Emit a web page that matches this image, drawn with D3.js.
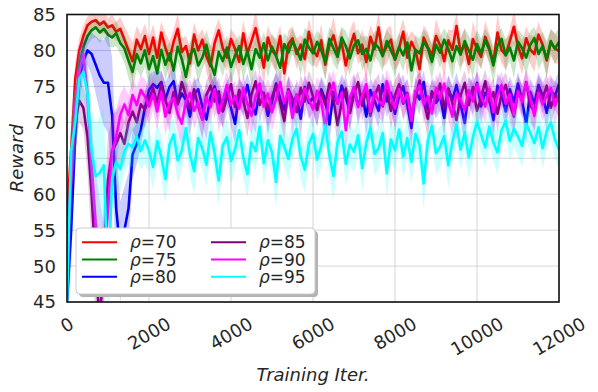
<!DOCTYPE html>
<html>
<head>
<meta charset="utf-8">
<script src="https://cdn.jsdelivr.net/npm/d3@7"></script>
<style>
    body { margin: 0; background: #fff; }
    text { font-family: "DejaVu Sans", sans-serif; fill: #262626; }
</style>
</head>
<body>
<div class="chart"></div>
<script>

// Reward curves, one value every 100 training iterations (0 .. 12000)
var stepIter = 100;

var rho70 = [57, 66, 76, 80, 82, 83.5, 84, 84.2, 83.6, 84, 83.2, 83.5, 82.6, 83, 81.5, 80, 78.5, 81.5, 80.2, 82, 79.5,
    81.8, 79, 82.5, 80.4, 78.6, 81.2, 83, 79.8, 80.6, 78.2, 82.2, 80, 81.5, 79.2, 77.8, 81, 82.8, 80.3, 79, 81.6,
    80.2, 78.4, 82.4, 79.6, 81.3, 83.1, 80.5, 77.6, 81.8, 80, 79.3, 82, 76.8, 80.9, 81.7, 79.5, 80.8, 78.8, 82.6, 80.1,
    79.2, 81.4, 78, 80.7, 82.1, 79.8, 81, 77.9, 80.4, 82.3, 79.6, 80.8, 78.4, 81.9, 80.2, 83.2, 79.4, 80.6, 81.5, 78.7,
    80.3, 82.6, 79, 81.2, 80, 77.4, 81.8, 80.5, 79.3, 82, 80.7, 78.5, 81.4, 80.1, 83.4, 79.7, 80.9, 78.1, 81.6, 80.2,
    79.1, 81.9, 80.4, 78.3, 82.5, 80, 79.4, 81.3, 83.3, 80.6, 78.9, 81.7, 80.1, 79.5, 82.2, 80.8, 78.6, 81.1, 80.3, 79.9];

var rho75 = [46, 58, 70, 78, 80.5, 82, 82.8, 83.2, 82.5, 83, 82.2, 81.8, 82.4, 81, 80.3, 78.6, 77, 79.5, 78.2, 80, 77.4,
    79.2, 76.8, 80.1, 78, 79.6, 77.2, 80.5, 78.8, 76.3, 79.4, 80.2, 77.9, 79, 80.8, 78.3, 76.6, 79.8, 78.5, 80.4, 77.7,
    79.3, 80.6, 78.1, 79.9, 77.4, 80.2, 79, 81, 78.6, 80.5, 79.2, 77.6, 80.9, 79.7, 81.3, 80.1, 78.7, 81.5, 80.4, 79.6,
    81.2, 80, 78.4, 81.6, 80.3, 79.1, 81.8, 80.6, 78.9, 80.7, 81.4, 79.5, 80.2, 78.6, 81, 80.4, 79.2, 81.3, 80, 78.8,
    80.5, 79.3, 81.1, 77.2, 80.1, 79.6, 81.2, 80.3, 78.4, 80.8, 79.7, 81.5, 80.2, 78.5, 80.6, 79.4, 81.3, 80, 78.7, 80.9,
    79.6, 81.4, 80.1, 77.9, 80.7, 81.6, 79.3, 80.4, 78.6, 81.2, 80.3, 79, 80.8, 81.7, 79.5, 80.6, 78.8, 81.3, 80.2, 81.2];

var rho80 = [45, 55, 68, 76, 78.5, 80, 79.5, 78, 76.5, 75.5, 75.5, 71, 58, 52, 55, 58, 65.5, 67, 69, 72, 74.5,
    75.3, 74.8, 75.6, 73.2, 74.9, 75.7, 72.6, 74, 73.1, 70.8, 73.9, 74.6, 72.2, 70.4, 73.5, 75, 72.8, 71.6, 74.3, 72,
    69.8, 74.1, 73, 75.2, 72.4, 71.1, 74.7, 73.6, 70.9, 72.8, 75.4, 73.3, 71.7, 74.4, 72.1, 73.8, 70.5, 74.9, 72.7, 73.4,
    71.9, 74.6, 73.1, 69.7, 74.2, 72.6, 75.1, 73.5, 71.4, 74.8, 72.3, 73.9, 70.8, 74.5, 73, 71.6, 75.3, 72.9, 74.1, 71.2,
    73.7, 75, 72.4, 69.2, 74.3, 73.2, 75.6, 71.8, 74, 72.7, 73.6, 70.6, 74.7, 73.1, 75.2, 72.5, 69.9, 74.4, 73.3, 75.5,
    72.2, 74.1, 73.4, 70.3, 75.1, 73.9, 71.5, 74.6, 72.8, 75.4, 73, 69.8, 74.2, 72.6, 75.2, 73.7, 71.3, 74.5, 73.6, 75.3];

var rho85 = [50, 62, 70, 73, 72, 68, 60, 50, 42, 52, 62, 66, 67, 68.5, 67, 70, 71.5, 70, 72.5, 71.8, 73.2,
    74.8, 72.6, 75.4, 73.1, 71.3, 74.2, 72.5, 75.6, 73.7, 71.9, 74.6, 72.2, 70.4, 73.8, 75.1, 72.9, 74.3, 71.5, 73.4, 75.3,
    72.1, 74.5, 73, 70.6, 73.9, 75.7, 72.4, 74.1, 71.8, 73.5, 75.2, 72.7, 70.2, 74.6, 73.3, 71.4, 74.8, 72.9, 75.5, 73.6,
    71.7, 74.2, 72.5, 75.4, 73.1, 69.6, 72.8, 74.7, 71.3, 73.9, 75.6, 72.3, 74.4, 70.9, 73.6, 75.1, 72.2, 74.5, 71.6, 73.8,
    75.3, 72.6, 74.1, 71, 73.5, 75.8, 72.9, 70.5, 74.3, 73.2, 75.4, 71.9, 74.6, 72.7, 70.3, 73.7, 75.5, 72.4, 74.9, 71.6,
    73.4, 75.7, 72.8, 74.2, 71.2, 73.9, 75.2, 72.5, 70.8, 74.4, 73.1, 75.6, 72.3, 71.5, 74.7, 73.3, 75.1, 72, 73.8, 72.9];

var rho90 = [52, 62, 72, 77, 79.5, 74, 64, 56, 52, 50, 58, 66, 68, 71, 72.5, 71, 73.8, 72.4, 74.5, 73.6, 72.2,
    73.9, 71.5, 74.2, 70.8, 72.6, 73.4, 71.2, 69.8, 72.9, 74.1, 71.6, 72.8, 70.4, 73.5, 72.1, 74.6, 71.3, 73, 75.2, 72.4,
    73.7, 71.9, 74.8, 72.5, 70.9, 73.6, 75.4, 72.2, 74, 71.4, 73.2, 75.6, 72.7, 74.3, 70.6, 73.9, 72.3, 74.7, 73.1, 71.8,
    74.4, 72.9, 69.3, 73.8, 75.5, 72.6, 74.1, 68.9, 73.4, 74.9, 72.1, 73.7, 75.3, 71.5, 74.2, 73, 72.4, 75.7, 73.5, 71.9,
    74.6, 72.8, 73.9, 70.2, 74.3, 75.1, 72.5, 73.6, 71.2, 74.8, 73.3, 75.4, 72.7, 70.8, 74, 73.1, 71.7, 74.5, 72.9, 75.3,
    73.6, 72.2, 74.7, 71.4, 73.8, 75.2, 72.6, 73.9, 71.1, 74.3, 72.8, 75.5, 73.4, 70.9, 74.1, 72.5, 73.7, 74.8, 72.3, 73.9];

var rho95 = [45, 66, 70, 76, 77, 74, 66, 62.5, 63, 64, 47, 62, 64.5, 63.5, 66, 67, 66.5, 68, 66, 67.5, 66,
    63.8, 67.4, 65.2, 62.1, 66.9, 68.3, 64.7, 66.1, 69.2, 65.5, 63.2, 67.8, 66.4, 64.1, 68.6, 65.7, 61.9, 66.8, 67.9, 64.6,
    66.3, 68.9, 65.1, 62.8, 67.2, 66, 69.4, 64.3, 67.5, 65.8, 61.7, 68.1, 66.6, 64.9, 67.7, 69.1, 65.3, 63.4, 67, 68.4,
    64.8, 66.7, 69.6, 65.4, 62.5, 67.3, 68.7, 64.2, 66.9, 65.9, 68.2, 63.6, 67.1, 69.3, 65.6, 66.4, 68.5, 62.9, 67.6, 66.1,
    69, 65.2, 67.8, 64.5, 68.4, 66.8, 61.5, 67.4, 69.5, 65.7, 66.6, 68.1, 64, 67.3, 69.7, 66.2, 68.6, 65.1, 67.9, 70.1,
    68.3, 66.5, 69.4, 67.2, 65.8, 68.9, 70.2, 67.4, 69.1, 68, 66.7, 69.8, 68.5, 67.1, 69.3, 66.4, 68.8, 70, 67.6, 66.2];

// Spread of the shaded band around each curve
var rho70Sd = [3, 3, 2.5, 1.8, 1.5, 1.2, 1.4, 1.1, 1.3, 1.6, 1.2, 1.5, 1.3, 1.7, 1.9, 2.2, 2.6, 1.9, 2.1, 1.7, 2.3,
    1.8, 2.4, 1.5, 2, 2.7, 1.6, 2.2, 1.9, 1.4, 2.5, 1.7, 2.1, 1.5, 2.3, 2.8, 1.8, 1.6, 2.2, 1.9, 1.4,
    2, 2.6, 1.7, 2.1, 1.5, 2.4, 1.8, 2.9, 1.6, 2, 2.3, 1.5, 2.7, 1.9, 1.7, 2.2, 1.4, 2.5, 1.8, 2.1,
    1.6, 2.3, 2, 1.5, 2.6, 1.8, 2.2, 1.7, 2.4, 1.9, 1.5, 2.1, 2.8, 1.6, 2, 2.3, 1.7, 2.5, 1.9, 1.4,
    2.2, 1.8, 2.6, 1.5, 2, 2.9, 1.7, 2.1, 1.6, 2.4, 1.9, 2.2, 1.5, 2.7, 1.8, 2, 2.3, 1.6, 2.5, 1.9,
    1.7, 2.2, 2, 1.5, 2.6, 1.8, 2.1, 1.6, 2.4, 1.9, 2.3, 1.7, 2, 2.5, 1.8, 1.6, 2.2, 1.9, 2.1, 1.7];

var rho75Sd = [4, 4, 3, 2, 1.6, 1.3, 1.2, 1.4, 1.5, 1.2, 1.6, 1.4, 1.8, 1.5, 2, 2.4, 2.8, 2.1, 1.9, 2.3, 2.5,
    1.9, 2.6, 1.7, 2.2, 1.6, 2.8, 1.9, 2.3, 2.7, 1.8, 2, 2.4, 1.6, 2.1, 2.5, 2.9, 1.8, 2.2, 1.7, 2.4,
    2, 1.6, 2.3, 1.8, 2.6, 1.7, 2.1, 1.5, 2.4, 1.9, 2.2, 2.7, 1.6, 2, 1.8, 1.5, 2.3, 1.7, 2.1, 1.9,
    1.6, 2, 2.5, 1.7, 2.2, 1.9, 1.5, 2.1, 2.4, 1.8, 1.6, 2.3, 1.9, 2.6, 1.7, 2, 2.2, 1.5, 2.1, 2.4,
    1.9, 2.2, 1.6, 2.9, 2, 2.1, 1.7, 1.9, 2.5, 1.8, 2.2, 1.6, 2, 2.6, 1.8, 2.3, 1.7, 2.1, 2.4, 1.9,
    2.1, 1.6, 2, 2.7, 1.9, 1.5, 2.3, 1.8, 2.5, 1.7, 2, 2.4, 1.9, 1.6, 2.2, 2, 2.6, 1.7, 2.1, 1.9];

var rho80Sd = [5, 5, 4, 3, 2.5, 2, 3, 4, 5, 6, 7, 8, 8, 7, 6, 5, 3.5, 2.8, 2.5, 2.2, 2,
    1.8, 2.2, 1.6, 2.4, 1.9, 2.1, 2.6, 1.7, 2.3, 2.8, 1.9, 1.6, 2.5, 2.9, 2, 1.7, 2.4, 2.2, 1.8, 2.6,
    2.7, 1.9, 2.2, 1.6, 2.4, 2.5, 1.8, 2, 2.6, 2.1, 1.7, 2.3, 2.4, 1.9, 2.2, 1.8, 2.7, 1.6, 2.3, 2,
    2.4, 1.8, 2.1, 2.8, 1.7, 2.3, 1.6, 2, 2.5, 1.9, 2.2, 1.8, 2.6, 1.7, 2.1, 2.4, 1.6, 2.2, 1.9, 2.5,
    2, 1.7, 2.3, 2.9, 1.8, 2.1, 1.6, 2.5, 1.9, 2.2, 2, 2.7, 1.8, 2.1, 1.7, 2.3, 2.8, 1.9, 2.2, 1.6,
    2.4, 1.9, 2.1, 2.7, 1.7, 2, 2.5, 1.8, 2.2, 1.6, 2.1, 2.8, 1.9, 2.3, 1.7, 2, 2.4, 1.8, 2.1, 1.9];

var rho85Sd = [5, 5, 4, 3, 3, 5, 7, 8, 8, 7, 6, 5, 4.5, 4, 3, 3, 2.6, 2.5, 2.3, 2.6, 2.2,
    2, 2.4, 1.8, 2.2, 2.6, 1.9, 2.3, 1.7, 2.1, 2.5, 1.8, 2.2, 2.7, 2, 1.7, 2.3, 1.9, 2.5, 2.1, 1.8,
    2.3, 1.9, 2.1, 2.7, 2, 1.6, 2.4, 1.8, 2.5, 2.1, 1.7, 2.2, 2.8, 1.9, 2.1, 2.5, 1.8, 2.2, 1.7, 2,
    2.4, 1.9, 2.2, 1.7, 2.1, 2.8, 2.3, 1.8, 2.5, 2, 1.6, 2.3, 1.9, 2.6, 2.1, 1.7, 2.4, 1.9, 2.5, 2.1,
    1.8, 2.3, 2, 2.6, 2.1, 1.6, 2.2, 2.7, 1.9, 2.3, 1.7, 2.5, 1.9, 2.2, 2.8, 2, 1.7, 2.4, 1.8, 2.5,
    2.1, 1.7, 2.3, 1.9, 2.6, 2, 1.8, 2.4, 2.7, 1.9, 2.2, 1.6, 2.4, 2.5, 1.8, 2.1, 1.7, 2.3, 2, 2.2];

var rho90Sd = [5, 5, 4, 3, 2.5, 4, 6, 7, 7, 6, 6, 5, 4, 3, 2.6, 2.8, 2.3, 2.5, 2.1, 2.4, 2.6,
    2.2, 2.7, 1.9, 2.5, 2.3, 2, 2.6, 2.9, 2.2, 1.9, 2.5, 2.1, 2.8, 2, 2.4, 1.8, 2.6, 2.2, 1.9, 2.4,
    2.1, 2.5, 1.8, 2.3, 2.7, 2, 1.8, 2.4, 2.1, 2.6, 2.2, 1.7, 2.3, 2, 2.8, 2.1, 2.4, 1.9, 2.2, 2.5,
    1.9, 2.2, 2.9, 2.1, 1.8, 2.4, 2, 3, 2.2, 1.9, 2.5, 2.1, 1.8, 2.6, 2, 2.3, 2.4, 1.7, 2.1, 2.5,
    2, 2.3, 2.1, 2.8, 2, 1.8, 2.5, 2.2, 2.6, 1.9, 2.2, 1.8, 2.4, 2.7, 2, 2.2, 2.5, 1.9, 2.3, 1.8,
    2.1, 2.4, 1.9, 2.6, 2.2, 1.8, 2.4, 2, 2.7, 2.1, 2.3, 1.8, 2.2, 2.8, 2, 2.4, 2.1, 1.9, 2.5, 2.2];

var rho95Sd = [6, 6, 5, 4, 3.5, 5, 6, 7, 8, 8, 6, 4, 3, 3.2, 2.8, 3, 2.7, 3.1, 2.6, 3.3, 2.9,
    3.2, 2.6, 3, 3.4, 2.7, 2.5, 3.1, 2.8, 2.4, 3, 3.3, 2.6, 2.9, 3.2, 2.5, 2.8, 3.5, 2.7, 2.6, 3.1,
    2.8, 2.4, 3, 3.3, 2.6, 2.9, 2.3, 3.1, 2.7, 2.9, 3.6, 2.5, 2.8, 3, 2.6, 2.4, 3.1, 3.2, 2.7, 2.5,
    3, 2.8, 2.4, 2.9, 3.4, 2.7, 2.5, 3.1, 2.8, 2.9, 2.6, 3.2, 2.7, 2.4, 3, 2.8, 2.6, 3.3, 2.7, 2.9,
    2.5, 3, 2.7, 3.1, 2.6, 2.8, 3.6, 2.7, 2.4, 3, 2.8, 2.6, 3.2, 2.9, 2.4, 2.8, 2.6, 3.1, 2.7, 2.4,
    2.6, 2.8, 2.4, 2.7, 3, 2.5, 2.3, 2.8, 2.5, 2.7, 2.9, 2.4, 2.6, 2.8, 2.5, 2.9, 2.6, 2.3, 2.7, 2.9];

var labels = ["70", "75", "80", "85", "90", "95"];
var means = [rho70, rho75, rho80, rho85, rho90, rho95];
var spreads = [rho70Sd, rho75Sd, rho80Sd, rho85Sd, rho90Sd, rho95Sd];
var colors = ["#ff0000", "#008000", "#0000ff", "#800080", "#ff00ff", "#00ffff"];

var xTicks = [0, 2000, 4000, 6000, 8000, 10000, 12000];
var yTicks = [45, 50, 55, 60, 65, 70, 75, 80, 85];

var width = 598, height = 392;
var plot = {left: 67, right: 559, top: 14.5, bottom: 302};

var svg = d3.select(".chart")
    .append("svg")
        .attr("width", width)
        .attr("height", height);

var x = d3.scaleLinear().domain([0, 12000]).range([plot.left, plot.right]);
var y = d3.scaleLinear().domain([45, 85]).range([plot.bottom, plot.top]);

// Clip everything to the axes box
svg.append("defs").append("clipPath")
    .attr("id", "clip")
    .append("rect")
        .attr("x", plot.left)
        .attr("y", plot.top)
        .attr("width", plot.right - plot.left)
        .attr("height", plot.bottom - plot.top);

// Grid
svg.append("g")
    .selectAll("line")
    .data(xTicks)
    .enter()
    .append("line")
        .attr("x1", function(d) { return x(d); })
        .attr("x2", function(d) { return x(d); })
        .attr("y1", plot.top)
        .attr("y2", plot.bottom)
        .style("stroke", "#d4d4d4")
        .style("stroke-width", 1);

svg.append("g")
    .selectAll("line")
    .data(yTicks)
    .enter()
    .append("line")
        .attr("x1", plot.left)
        .attr("x2", plot.right)
        .attr("y1", function(d) { return y(d); })
        .attr("y2", function(d) { return y(d); })
        .style("stroke", "#d4d4d4")
        .style("stroke-width", 1);

// Build point lists per series
var series = means.map(function(m, k) {
    var sd = spreads[k];
    var n = Math.min(m.length, sd.length);
    var pts = d3.range(n).map(function(i) {
        return {it: i * stepIter, v: m[i], lo: m[i] - sd[i], hi: m[i] + sd[i]};
    });
    return {label: labels[k], color: colors[k], pts: pts};
});

var area = d3.area()
    .x(function(d) { return x(d.it); })
    .y0(function(d) { return y(d.lo); })
    .y1(function(d) { return y(d.hi); });

var line = d3.line()
    .x(function(d) { return x(d.it); })
    .y(function(d) { return y(d.v); });

var data = svg.append("g").attr("clip-path", "url(#clip)");

series.forEach(function(s) {
    data.append("path")
        .attr("d", area(s.pts))
        .style("fill", s.color)
        .style("fill-opacity", 0.2)
        .style("stroke", "none");
    data.append("path")
        .attr("d", line(s.pts))
        .style("fill", "none")
        .style("stroke", s.color)
        .style("stroke-width", 2.6)
        .style("stroke-linejoin", "round");
});

// Axes frame
svg.append("rect")
    .attr("x", plot.left)
    .attr("y", plot.top)
    .attr("width", plot.right - plot.left)
    .attr("height", plot.bottom - plot.top)
    .style("fill", "none")
    .style("stroke", "#111")
    .style("stroke-width", 1.6);

// Y tick labels
svg.append("g")
    .selectAll("text")
    .data(yTicks)
    .enter()
    .append("text")
        .attr("x", 56)
        .attr("y", function(d) { return y(d); })
        .attr("dy", "0.36em")
        .attr("text-anchor", "end")
        .style("font-size", "18px")
        .text(function(d) { return d; });

// X tick labels, rotated 30 degrees around their centre
svg.append("g")
    .selectAll("text")
    .data(xTicks)
    .enter()
    .append("text")
        .attr("text-anchor", "middle")
        .attr("dy", "0.36em")
        .style("font-size", "18px")
        .text(function(d) { return d; })
        .attr("transform", function(d) {
            var w = String(d).length * 11.45;
            var cy = 316 + (w * 0.5 + 12) / 2;
            return "translate(" + x(d) + "," + cy + ") rotate(-30)";
        });

// Axis titles
svg.append("text")
    .attr("x", (plot.left + plot.right) / 2)
    .attr("y", 381)
    .attr("text-anchor", "middle")
    .style("font-size", "18px")
    .style("font-style", "italic")
    .text("Training Iter.");

svg.append("text")
    .attr("transform", "translate(23," + ((plot.top + plot.bottom) / 2) + ") rotate(-90)")
    .attr("text-anchor", "middle")
    .style("font-size", "18px")
    .style("font-style", "italic")
    .text("Reward");

// Legend
var legend = svg.append("g");

legend.append("rect")
    .attr("x", 79)
    .attr("y", 231)
    .attr("width", 239)
    .attr("height", 66)
    .attr("rx", 4)
    .style("fill", "#b3b3b3");

legend.append("rect")
    .attr("x", 76)
    .attr("y", 228)
    .attr("width", 239)
    .attr("height", 66)
    .attr("rx", 4)
    .style("fill", "#fff")
    .style("stroke", "#cccccc")
    .style("stroke-width", 1);

var rowY = [242.3, 259.5, 276.8];
var colX = [82, 211];

series.forEach(function(s, k) {
    var cx = colX[Math.floor(k / 3)];
    var cy = rowY[k % 3];
    legend.append("line")
        .attr("x1", cx)
        .attr("x2", cx + 35)
        .attr("y1", cy)
        .attr("y2", cy)
        .style("stroke", s.color)
        .style("stroke-width", 2);
    var t = legend.append("text")
        .attr("x", cx + 48)
        .attr("y", cy)
        .attr("dy", "0.36em")
        .style("font-size", "17px");
    t.append("tspan").style("font-style", "italic").text("ρ");
    t.append("tspan").text("=" + s.label);
});

</script>
</body>
</html>
